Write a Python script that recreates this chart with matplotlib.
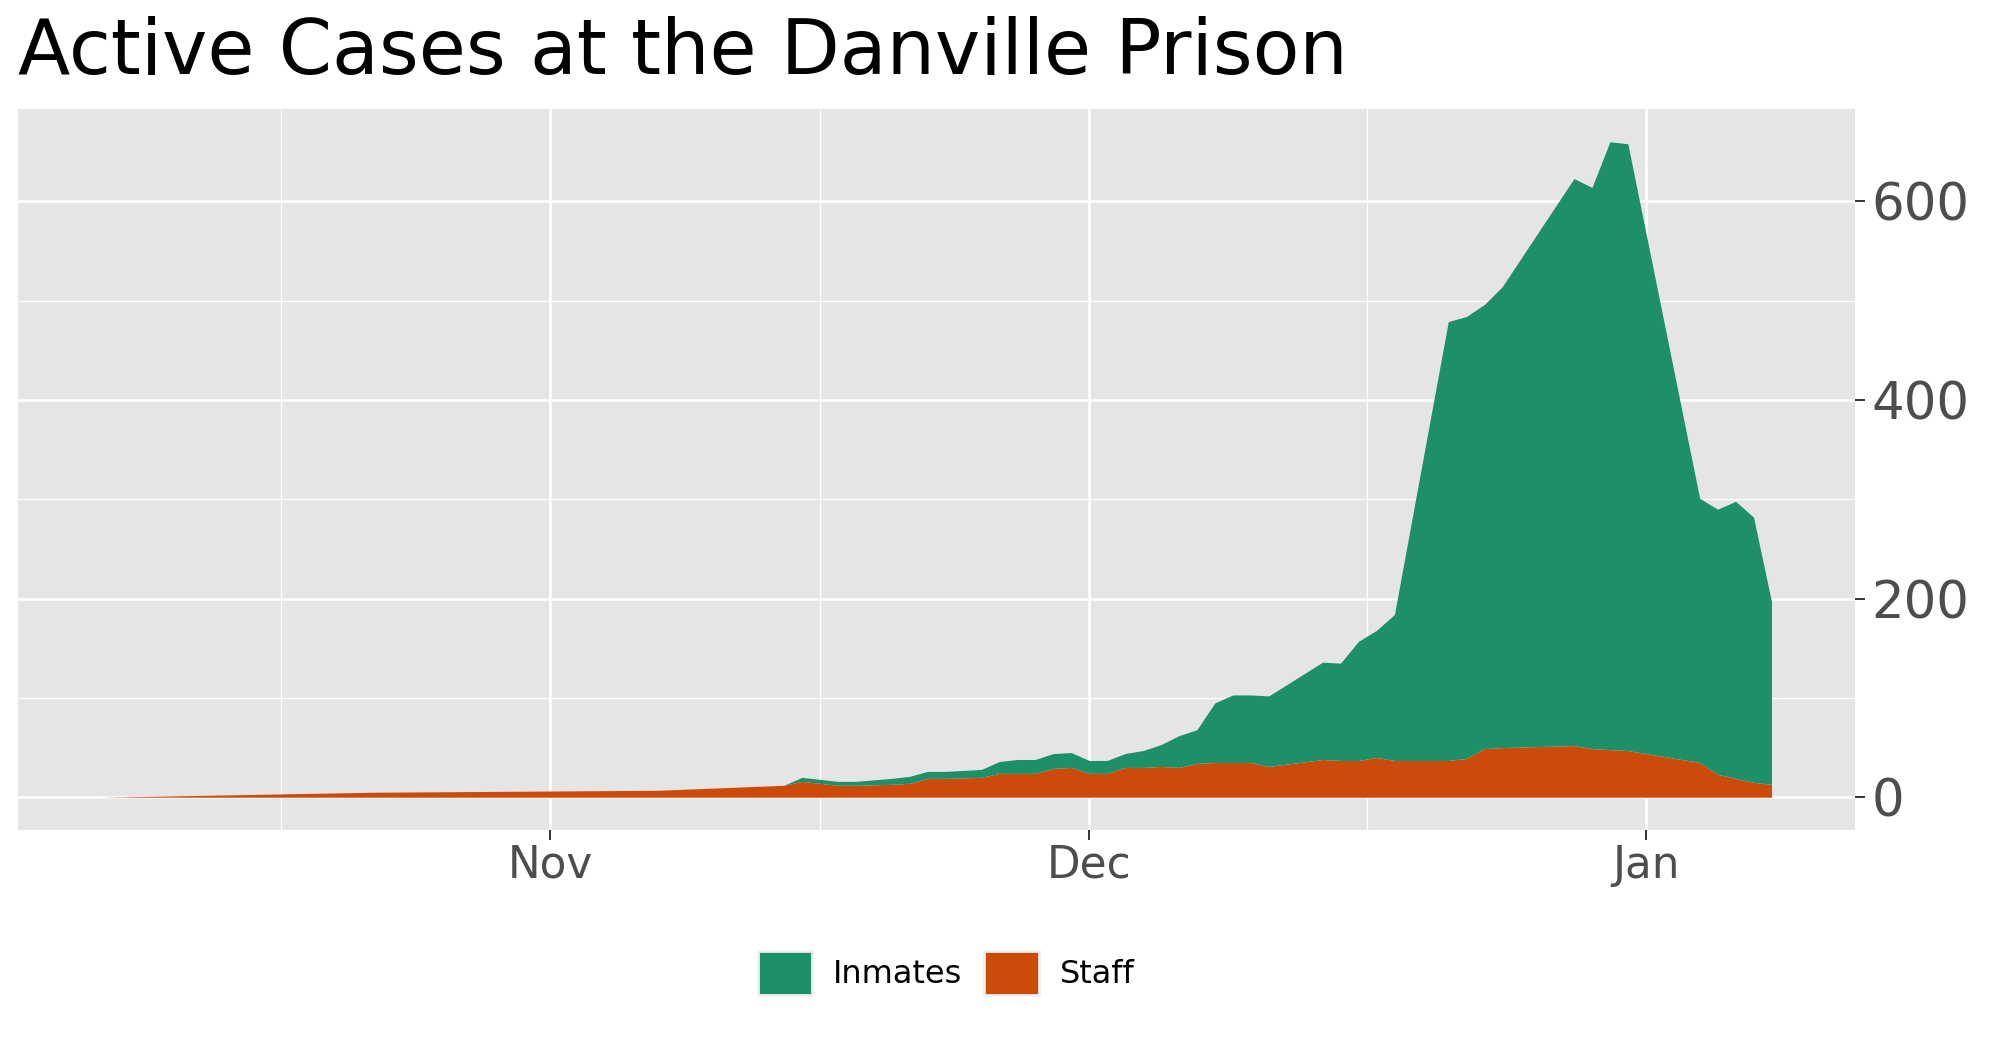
import numpy as np
import pandas as pd
import matplotlib
matplotlib.use("Agg")
import matplotlib.pyplot as plt
import matplotlib.dates as mdates
from matplotlib.patches import Patch
from matplotlib.ticker import FixedLocator, MultipleLocator

# active cases (2020-10-07 .. 2021-01-08)
dates = ["2020-10-07", "2020-10-22", "2020-11-07", "2020-11-14", "2020-11-15",
         "2020-11-17", "2020-11-18", "2020-11-20", "2020-11-21", "2020-11-22",
         "2020-11-23", "2020-11-25", "2020-11-26", "2020-11-27", "2020-11-28",
         "2020-11-29", "2020-11-30", "2020-12-01", "2020-12-02", "2020-12-03",
         "2020-12-04", "2020-12-05", "2020-12-06", "2020-12-07", "2020-12-08",
         "2020-12-09", "2020-12-10", "2020-12-11", "2020-12-14", "2020-12-15",
         "2020-12-16", "2020-12-17", "2020-12-18", "2020-12-21", "2020-12-22",
         "2020-12-23", "2020-12-24", "2020-12-28", "2020-12-29", "2020-12-30",
         "2020-12-31", "2021-01-04", "2021-01-05", "2021-01-06", "2021-01-07",
         "2021-01-08"]
staff = [0, 5, 7, 12, 16, 12, 12, 13, 14, 19,
         19, 20, 24, 24, 24, 29, 30, 24, 24, 30,
         30, 31, 30, 34, 35, 35, 35, 31, 38, 37,
         37, 40, 37, 37, 39, 49, 50, 52, 49, 48,
         47, 35, 23, 19, 15, 13]
inmates = [0, 0, 0, 0, 4, 4, 4, 6, 7, 7,
           7, 8, 12, 14, 14, 15, 15, 13, 13, 14,
           17, 22, 32, 34, 60, 68, 68, 71, 98, 98,
           120, 128, 147, 442, 445, 447, 464, 571, 565, 612,
           611, 266, 267, 279, 267, 184]
series = ["Inmates", "Staff"]
colors = {"Inmates": "#1E9068", "Staff": "#CD4B0A"}
y_ticks = [0, 200, 400, 600]
month_breaks = ["2020-11-01", "2020-12-01", "2021-01-01"]

x = pd.to_datetime(dates)
staff = np.array(staff, dtype=float)
total = staff + np.array(inmates, dtype=float)

fig = plt.figure(figsize=(19.9, 10.41), dpi=100)
ax = fig.add_axes([18 / 1990, 1 - 830 / 1041, (1855 - 18) / 1990, (830 - 109) / 1041])
ax.set_facecolor("#E5E5E5")

ax.fill_between(x, 0, staff, color=colors["Staff"], linewidth=0, zorder=3)
ax.fill_between(x, staff, total, color=colors["Inmates"], linewidth=0, zorder=3)

# ggplot-like 5% expansion
xn = mdates.date2num(x)
xpad = 0.05 * (xn.max() - xn.min())
ax.set_xlim(xn.min() - xpad, xn.max() + xpad)
ypad = 0.05 * total.max()
ax.set_ylim(-ypad, total.max() + ypad)

# majors at month starts, minors like ggplot's regular_minor_breaks
b = mdates.date2num(pd.to_datetime(month_breaks))
bd = b[1] - b[0]
bext = np.concatenate([[b[0] - bd], b, [b[-1] + bd]])
ax.xaxis.set_major_locator(FixedLocator(b))
ax.xaxis.set_major_formatter(mdates.DateFormatter("%b"))
ax.xaxis.set_minor_locator(FixedLocator((bext[:-1] + bext[1:]) / 2))

ax.yaxis.tick_right()
ax.yaxis.set_major_locator(FixedLocator(y_ticks))
ax.yaxis.set_minor_locator(MultipleLocator(100))

ax.grid(which="major", color="white", linewidth=1.8, zorder=1)
ax.grid(which="minor", color="white", linewidth=0.9, zorder=1)
ax.set_axisbelow(True)
for s in ax.spines.values():
    s.set_visible(False)

ax.tick_params(axis="x", which="major", labelsize=31.5, colors="#333333",
               labelcolor="#4D4D4D", length=7, width=1.4, pad=3)
ax.tick_params(axis="y", which="major", labelsize=37, colors="#333333",
               labelcolor="#4D4D4D", length=7, width=1.4, pad=5)
ax.tick_params(which="minor", length=0)

fig.text(18 / 1990, 1 - 74 / 1041, "Active Cases at the Danville Prison",
         fontsize=55, color="black", va="baseline", ha="left")

handles = [Patch(facecolor=colors[s], edgecolor="#EFEFEF", linewidth=2) for s in series]
fig.legend(handles, series, loc="center", bbox_to_anchor=(946 / 1990, 1 - 973 / 1041),
           ncol=2, frameon=False, fontsize=23, handlelength=1.7, handleheight=1.7,
           handletextpad=0.65, columnspacing=0.7)

fig.savefig("out.png", dpi=100)
